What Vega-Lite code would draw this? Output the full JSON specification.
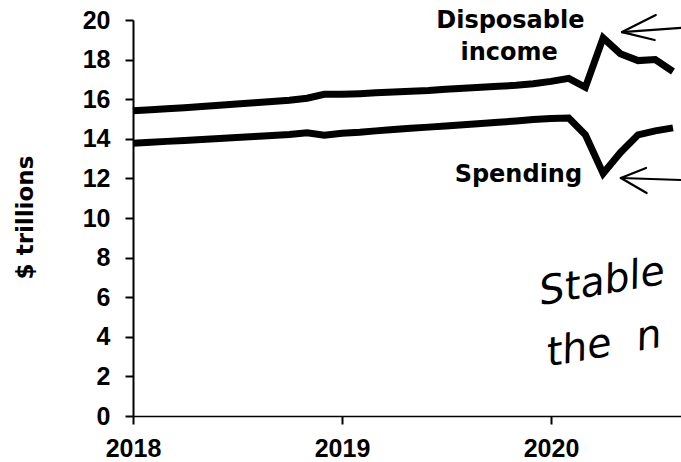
{
  "$schema": "https://vega.github.io/schema/vega-lite/v6.json",
  "autosize": {"type": "none"},
  "padding": {"left": 133, "top": 20, "right": 0, "bottom": 46},
  "width": 548,
  "height": 396,
  "background": "white",
  "config": {"view": {"stroke": null}},
  "datasets": {
    "series": [
      {"series": "income", "date": "2018/01/01", "value": 15.42},
      {"series": "income", "date": "2018/02/01", "value": 15.47},
      {"series": "income", "date": "2018/03/01", "value": 15.52},
      {"series": "income", "date": "2018/04/01", "value": 15.57},
      {"series": "income", "date": "2018/05/01", "value": 15.63},
      {"series": "income", "date": "2018/06/01", "value": 15.70},
      {"series": "income", "date": "2018/07/01", "value": 15.76},
      {"series": "income", "date": "2018/08/01", "value": 15.82},
      {"series": "income", "date": "2018/09/01", "value": 15.88},
      {"series": "income", "date": "2018/10/01", "value": 15.95},
      {"series": "income", "date": "2018/11/01", "value": 16.05},
      {"series": "income", "date": "2018/12/01", "value": 16.25},
      {"series": "income", "date": "2019/01/01", "value": 16.25},
      {"series": "income", "date": "2019/02/01", "value": 16.28},
      {"series": "income", "date": "2019/03/01", "value": 16.32},
      {"series": "income", "date": "2019/04/01", "value": 16.36},
      {"series": "income", "date": "2019/05/01", "value": 16.40},
      {"series": "income", "date": "2019/06/01", "value": 16.44},
      {"series": "income", "date": "2019/07/01", "value": 16.50},
      {"series": "income", "date": "2019/08/01", "value": 16.55},
      {"series": "income", "date": "2019/09/01", "value": 16.60},
      {"series": "income", "date": "2019/10/01", "value": 16.65},
      {"series": "income", "date": "2019/11/01", "value": 16.70},
      {"series": "income", "date": "2019/12/01", "value": 16.78},
      {"series": "income", "date": "2020/01/01", "value": 16.90},
      {"series": "income", "date": "2020/02/01", "value": 17.05},
      {"series": "income", "date": "2020/03/01", "value": 16.60},
      {"series": "income", "date": "2020/04/01", "value": 19.10},
      {"series": "income", "date": "2020/05/01", "value": 18.30},
      {"series": "income", "date": "2020/06/01", "value": 17.95},
      {"series": "income", "date": "2020/07/01", "value": 18.00},
      {"series": "income", "date": "2020/08/01", "value": 17.40},
      {"series": "spending", "date": "2018/01/01", "value": 13.77},
      {"series": "spending", "date": "2018/02/01", "value": 13.82},
      {"series": "spending", "date": "2018/03/01", "value": 13.87},
      {"series": "spending", "date": "2018/04/01", "value": 13.92},
      {"series": "spending", "date": "2018/05/01", "value": 13.97},
      {"series": "spending", "date": "2018/06/01", "value": 14.02},
      {"series": "spending", "date": "2018/07/01", "value": 14.07},
      {"series": "spending", "date": "2018/08/01", "value": 14.12},
      {"series": "spending", "date": "2018/09/01", "value": 14.17},
      {"series": "spending", "date": "2018/10/01", "value": 14.22},
      {"series": "spending", "date": "2018/11/01", "value": 14.30},
      {"series": "spending", "date": "2018/12/01", "value": 14.18},
      {"series": "spending", "date": "2019/01/01", "value": 14.28},
      {"series": "spending", "date": "2019/02/01", "value": 14.33},
      {"series": "spending", "date": "2019/03/01", "value": 14.40},
      {"series": "spending", "date": "2019/04/01", "value": 14.47},
      {"series": "spending", "date": "2019/05/01", "value": 14.53},
      {"series": "spending", "date": "2019/06/01", "value": 14.59},
      {"series": "spending", "date": "2019/07/01", "value": 14.65},
      {"series": "spending", "date": "2019/08/01", "value": 14.71},
      {"series": "spending", "date": "2019/09/01", "value": 14.77},
      {"series": "spending", "date": "2019/10/01", "value": 14.84},
      {"series": "spending", "date": "2019/11/01", "value": 14.90},
      {"series": "spending", "date": "2019/12/01", "value": 14.97},
      {"series": "spending", "date": "2020/01/01", "value": 15.03},
      {"series": "spending", "date": "2020/02/01", "value": 15.05},
      {"series": "spending", "date": "2020/03/01", "value": 14.20},
      {"series": "spending", "date": "2020/04/01", "value": 12.25},
      {"series": "spending", "date": "2020/05/01", "value": 13.30},
      {"series": "spending", "date": "2020/06/01", "value": 14.20},
      {"series": "spending", "date": "2020/07/01", "value": 14.40},
      {"series": "spending", "date": "2020/08/01", "value": 14.55}
    ],
    "labels": [
      {"label": "Disposable", "date": "2019/10/22", "value": 19.6},
      {"label": "income", "date": "2019/10/20", "value": 17.98},
      {"label": "Spending", "date": "2019/11/05", "value": 11.82}
    ],
    "notes": [
      {"label": "Stable", "date": "2019/12/16", "value": 5.6},
      {"label": "the\u00a0\u00a0n", "date": "2019/12/28", "value": 2.5}
    ],
    "arrows": [
      {"seg": "a1", "date": "2020/05/04", "value": 19.39},
      {"seg": "a1", "date": "2020/08/15", "value": 19.6},
      {"seg": "a1u", "date": "2020/05/04", "value": 19.39},
      {"seg": "a1u", "date": "2020/07/02", "value": 20.25},
      {"seg": "a1l", "date": "2020/05/04", "value": 19.39},
      {"seg": "a1l", "date": "2020/06/30", "value": 18.99},
      {"seg": "a2", "date": "2020/05/02", "value": 12.02},
      {"seg": "a2", "date": "2020/08/15", "value": 11.92},
      {"seg": "a2u", "date": "2020/05/02", "value": 12.02},
      {"seg": "a2u", "date": "2020/06/15", "value": 12.53},
      {"seg": "a2l", "date": "2020/05/02", "value": 12.02},
      {"seg": "a2l", "date": "2020/06/16", "value": 11.26}
    ]
  },
  "encoding": {
    "x": {
      "field": "date",
      "type": "temporal",
      "scale": {"domain": [{"year": 2018, "month": 1, "date": 1}, {"year": 2020, "month": 8, "date": 15}], "nice": false},
      "axis": {
        "title": null,
        "values": [{"year": 2018, "month": 1, "date": 1}, {"year": 2019, "month": 1, "date": 1}, {"year": 2020, "month": 1, "date": 1}],
        "format": "%Y",
        "grid": false,
        "domainColor": "black",
        "domainWidth": 1.5,
        "tickColor": "black",
        "tickWidth": 2,
        "tickSize": 8,
        "labelFont": "Liberation Sans",
        "labelFontWeight": "bold",
        "labelFontSize": 25,
        "labelColor": "black",
        "labelPadding": 12,
        "labelFlush": false,
        "labelOverlap": false
      }
    },
    "y": {
      "field": "value",
      "type": "quantitative",
      "scale": {"domain": [0, 20], "nice": false, "zero": true},
      "axis": {
        "title": "$ trillions",
        "values": [0, 2, 4, 6, 8, 10, 12, 14, 16, 18, 20],
        "grid": false,
        "domainColor": "black",
        "domainWidth": 2,
        "tickColor": "black",
        "tickWidth": 2,
        "tickSize": 8,
        "labelFont": "Liberation Sans",
        "labelFontWeight": "bold",
        "labelFontSize": 25,
        "labelColor": "black",
        "labelPadding": 15,
        "titleFont": "DejaVu Sans",
        "titleFontSize": 23,
        "titleFontWeight": "bold",
        "titleColor": "black",
        "titleAngle": -90,
        "titleX": -108,
        "titleY": 197,
        "titleAlign": "center",
        "titleBaseline": "middle"
      }
    }
  },
  "layer": [
    {
      "data": {"name": "series"},
      "mark": {"type": "line", "color": "black", "strokeWidth": 7, "clip": false},
      "encoding": {"detail": {"field": "series"}}
    },
    {
      "data": {"name": "labels"},
      "mark": {"type": "text", "font": "DejaVu Sans", "fontWeight": "bold", "fontSize": 24, "color": "black", "align": "center", "baseline": "alphabetic"},
      "encoding": {"text": {"field": "label"}}
    },
    {
      "data": {"name": "notes"},
      "mark": {"type": "text", "font": "DejaVu Sans", "fontStyle": "italic", "fontWeight": "normal", "fontSize": 40, "color": "black", "align": "left", "baseline": "alphabetic", "angle": -10},
      "encoding": {"text": {"field": "label"}}
    },
    {
      "data": {"name": "arrows"},
      "mark": {"type": "line", "color": "black", "strokeWidth": 2.2, "clip": false, "strokeCap": "round"},
      "encoding": {"detail": {"field": "seg"}}
    }
  ]
}
